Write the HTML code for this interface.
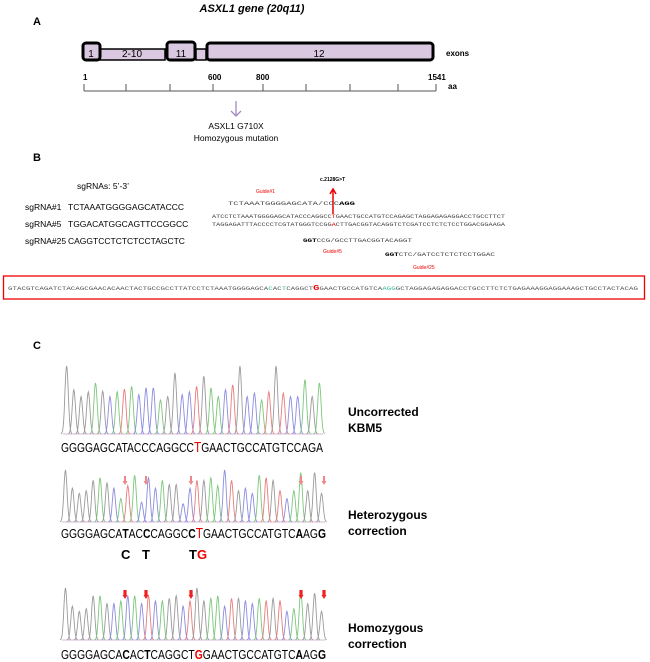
<!DOCTYPE html>
<html><head><meta charset="utf-8"><style>
body{margin:0;background:#fff;width:650px;height:662px;overflow:hidden}
svg{display:block}
</style></head><body>
<svg id="s" width="650" height="662" xmlns="http://www.w3.org/2000/svg" font-family="Liberation Sans, sans-serif">
<text x="252" y="12" font-size="11" font-weight="bold" font-style="italic" text-anchor="middle">ASXL1 gene (20q11)</text>
<text x="33" y="25" font-size="11" font-weight="bold">A</text>
<rect x="100" y="49" width="65" height="11" fill="#d9c8e0" stroke="#000" stroke-width="1.5"/>
<rect x="196" y="49" width="10" height="11" fill="#d9c8e0" stroke="#000" stroke-width="1.5"/>
<rect x="83" y="43" width="17" height="17" rx="3" fill="#d9c8e0" stroke="#000" stroke-width="3"/>
<rect x="167" y="42" width="28" height="18" rx="3" fill="#d9c8e0" stroke="#000" stroke-width="3"/>
<rect x="207" y="43" width="226" height="17" rx="3" fill="#d9c8e0" stroke="#000" stroke-width="3"/>
<text x="91" y="57" font-size="10" text-anchor="middle">1</text>
<text x="132" y="57" font-size="10" text-anchor="middle">2-10</text>
<text x="181" y="57" font-size="10" text-anchor="middle">11</text>
<text x="319" y="57" font-size="10" text-anchor="middle">12</text>
<text x="446" y="56" font-size="8" font-weight="bold">exons</text>
<g font-size="8" font-weight="bold">
<text x="83" y="80">1</text><text x="208" y="80">600</text><text x="256" y="80">800</text><text x="428" y="80">1541</text>
<text x="448" y="89">aa</text></g>
<g stroke="#555" stroke-width="1">
<line x1="84" y1="91" x2="436" y2="91"/>
<line x1="84" y1="84" x2="84" y2="91"/><line x1="126" y1="84" x2="126" y2="91"/><line x1="170" y1="84" x2="170" y2="91"/><line x1="213" y1="84" x2="213" y2="91"/><line x1="263" y1="84" x2="263" y2="91"/><line x1="306" y1="84" x2="306" y2="91"/><line x1="350" y1="84" x2="350" y2="91"/><line x1="398" y1="84" x2="398" y2="91"/><line x1="436" y1="84" x2="436" y2="91"/>
</g>
<g stroke="#a08ac0" stroke-width="1.3" fill="none"><line x1="236" y1="101" x2="236" y2="116"/><polyline points="231,111 236,116 241,111"/></g>
<text x="236" y="129" font-size="8.5" text-anchor="middle">ASXL1 G710X</text>
<text x="236" y="141" font-size="8.5" text-anchor="middle">Homozygous mutation</text>

<text x="33" y="161" font-size="11" font-weight="bold">B</text>
<text x="77" y="189" font-size="8.5">sgRNAs: 5’-3’</text>
<g font-size="8.5">
<text x="25" y="210">sgRNA#1</text><text x="68" y="210">TCTAAATGGGGAGCATACCC</text>
<text x="25" y="227">sgRNA#5</text><text x="68" y="227">TGGACATGGCAGTTCCGGCC</text>
<text x="25" y="244">sgRNA#25</text><text x="68" y="244">CAGGTCCTCTCTCCTAGCTC</text>
</g>
<text x="320" y="181" font-size="5" font-weight="bold">c.2128G&gt;T</text>
<text x="256" y="193" font-size="5" fill="#e00">Guide#1</text>
<g stroke="#e00" stroke-width="1.5" fill="none"><line x1="333" y1="214" x2="333" y2="190"/><polyline points="330,194 333,189 336,194"/></g>
<g font-family="Liberation Mono, monospace" font-size="5" fill="#444">
<text x="228" y="205" textLength="127" lengthAdjust="spacingAndGlyphs">TCTAAATGGGGAGCATA/CCC<tspan font-weight="bold" fill="#000">AGG</tspan></text>
<text x="212" y="218" textLength="293" lengthAdjust="spacingAndGlyphs">ATCCTCTAAATGGGGAGCATACCCAGGCC<tspan fill="#e00">T</tspan>GAACTGCCATGTCCAGAGCTAGGAGAGAGGACCTGCCTTCT</text>
<text x="212" y="226" textLength="293" lengthAdjust="spacingAndGlyphs">TAGGAGATTTACCCCTCGTATGGGTCCGG<tspan fill="#e00">A</tspan>CTTGACGGTACAGGTCTCGATCCTCTCTCCTGGACGGAAGA</text>
<text x="303" y="242" textLength="109" lengthAdjust="spacingAndGlyphs"><tspan font-weight="bold" fill="#000">GGT</tspan>CCG/GCCTTGACGGTACAGGT</text>
<text x="385" y="256" textLength="110" lengthAdjust="spacingAndGlyphs"><tspan font-weight="bold" fill="#000">GGT</tspan>CTC/GATCCTCTCTCCTGGAC</text>
</g>
<text x="323" y="253" font-size="5" fill="#e00">Guide#5</text>
<text x="413" y="269" font-size="5" fill="#e00">Guide#25</text>
<rect x="3.5" y="276" width="641" height="23" fill="none" stroke="#e00" stroke-width="1.3"/>
<text x="8" y="290" font-family="Liberation Mono, monospace" font-size="5" fill="#555" textLength="630" lengthAdjust="spacingAndGlyphs">GTACGTCAGATCTACAGCGAACACAACTACTGCCGCCTTATCCTCTAAATGGGGAGCA<tspan fill="#3b9">C</tspan>AC<tspan fill="#3b9">T</tspan>CAGGCT<tspan fill="#e00" font-weight="bold" font-size="7">G</tspan>GAACTGCCATGTCA<tspan fill="#3b9">AGG</tspan>GCTAGGAGAGAGGACCTGCCTTCTCTGAGAAAGGAGGAAAGCTGCCTACTACAG</text>

<text x="33" y="349" font-size="11" font-weight="bold">C</text>
<g id="chroms"></g>
<g font-size="13">
<text x="61" y="452" textLength="262" lengthAdjust="spacingAndGlyphs">GGGGAGCATACCCAGGCC<tspan fill="#e00" font-size="15">T</tspan>GAACTGCCATGTCCAGA</text>
<text x="61" y="538" textLength="265" lengthAdjust="spacingAndGlyphs">GGGGAGCA<tspan font-weight="bold">T</tspan>AC<tspan font-weight="bold">C</tspan>CAGGC<tspan font-weight="bold">C</tspan><tspan fill="#e00" font-size="15">T</tspan>GAACTGCCATGTC<tspan font-weight="bold">A</tspan>AG<tspan font-weight="bold">G</tspan></text>
<text x="61" y="659" textLength="265" lengthAdjust="spacingAndGlyphs">GGGGAGCA<tspan font-weight="bold">C</tspan>AC<tspan font-weight="bold">T</tspan>CAGGCT<tspan fill="#e00" font-weight="bold">G</tspan>GAACTGCCATGTC<tspan font-weight="bold">A</tspan>AG<tspan font-weight="bold">G</tspan></text>
</g>
<g font-size="13" font-weight="bold">
<text x="121" y="559">C</text><text x="142" y="559">T</text><text x="189" y="559">T<tspan fill="#e00">G</tspan></text>
</g>
<g font-size="12" font-weight="bold">
<text x="348" y="416">Uncorrected</text><text x="348" y="432">KBM5</text>
<text x="348" y="519">Heterozygous</text><text x="348" y="535">correction</text>
<text x="348" y="632">Homozygous</text><text x="348" y="648">correction</text>
</g>
<g fill="#e66" stroke="none" id="harrows"></g>
</svg>
<script>
(function(){
var col={G:'#9a9a9a',A:'#7cc77c',C:'#8c8ce0',T:'#e87c7c'};
var NS='http://www.w3.org/2000/svg',g=document.getElementById('chroms');
function peak(x,base,h,c,w){var p=document.createElementNS(NS,'path');
 var d='M'+(x-w*2.2)+' '+base;for(var i=-2.2;i<=2.21;i+=0.2){var y=base-h*Math.exp(-i*i*1.1);d+=' L'+(x+i*w).toFixed(1)+' '+y.toFixed(1);}
 p.setAttribute('d',d);p.setAttribute('fill','none');p.setAttribute('stroke',c);p.setAttribute('stroke-width','0.9');g.appendChild(p);}
function line(x1,x2,y){var l=document.createElementNS(NS,'line');l.setAttribute('x1',x1);l.setAttribute('x2',x2);l.setAttribute('y1',y);l.setAttribute('y2',y);l.setAttribute('stroke','#c8a0c8');l.setAttribute('stroke-width','0.8');g.appendChild(l);}
function chrom(seq,x0,x1,base,H,hs){var n=seq.length,dx=(x1-x0)/n;line(x0,x1,base);
 for(var i=0;i<n;i++){var h=H*hs[i%hs.length];peak(x0+dx*(i+0.5),base,h,col[seq[i]],dx*0.34);}}
chrom('GGGGAGCATACCCAGGCCTGAACTGCCATGTCCAGA',63,323,434,68,[1,.65,.55,.62,.75,.63,.55,.62,.66,.7,.58,.68,.68,.5,.55,.9,.58,.62,.7,.85,.68,.55,.65,.72,1,.55,.6,.5,.62,1,.6,.55,.55,.8,.55,.75]);
chrom('GGGGGAGCATACCCAGGCCTGAACTGCCATGTCAAGGG',62,325,522,52,[1,.65,.55,.6,.8,.85,.75,.65,.45,.7,.9,.38,.85,.65,.8,.72,.72,.35,.65,.8,.8,.85,.7,1,.8,.6,.65,.55,.9,.85,.8,.6,.45,.6,.95,.6,.95,.55]);
chrom('GGGGGAGCACACTCAGGCTGGAACTGCCATGTCAAGGG',62,325,640,52,[1,.65,.55,.6,.85,.85,.7,.7,.75,.85,.85,.7,.85,.75,.75,.8,.85,.65,.75,1,.75,.8,.85,.65,.8,.8,.75,.7,.8,.75,.8,.75,.55,.6,.95,.7,.9,.55]);
var a=document.getElementById('harrows');
function arr(x,y,big){var p=document.createElementNS(NS,'path');var w=big?1.6:1;
 p.setAttribute('d','M'+(x-w)+' '+y+' L'+(x+w)+' '+y+' L'+(x+w)+' '+(y+5)+' L'+(x+2.5)+' '+(y+5)+' L'+x+' '+(y+9)+' L'+(x-2.5)+' '+(y+5)+' L'+(x-w)+' '+(y+5)+'Z');
 p.setAttribute('fill',big?'#e22':'#e88');a.appendChild(p);}
[125,146,191,301,324].forEach(function(x){arr(x,476,false);arr(x,590,true);});
})();
</script>
</body></html>
